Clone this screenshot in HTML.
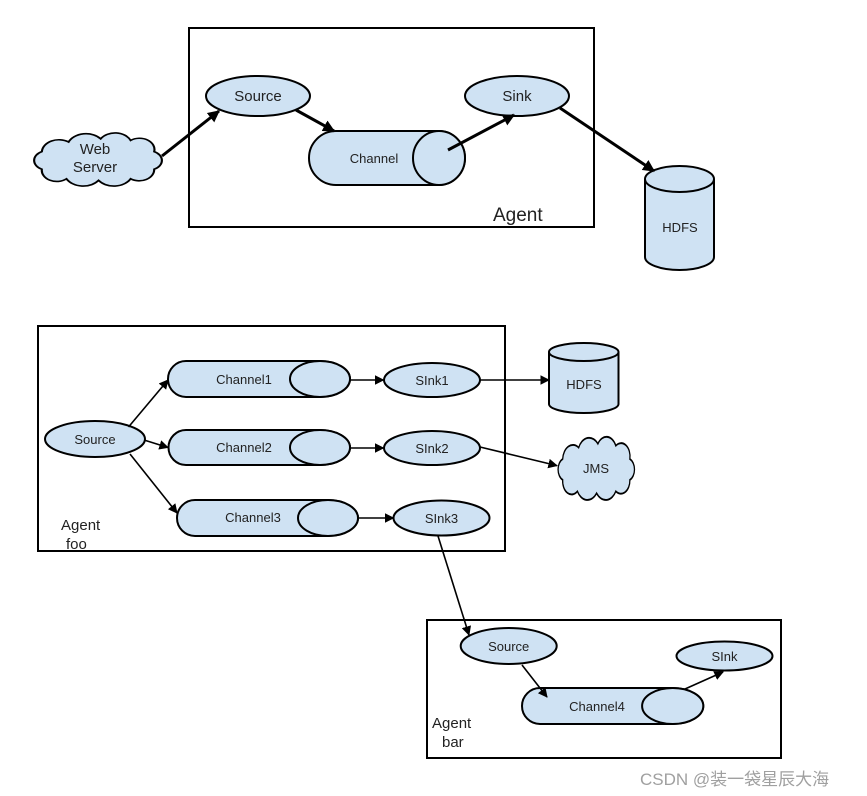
<!DOCTYPE html>
<html><head><meta charset="utf-8"><style>
html,body{margin:0;padding:0;background:#fff;}
svg{display:block;}
text{font-family:"Liberation Sans",Arial,sans-serif;fill:#222;}
</style></head><body>
<svg width="867" height="796" viewBox="0 0 867 796" xmlns="http://www.w3.org/2000/svg">
<defs>
<marker id="ah" viewBox="0 0 10 10" refX="9" refY="5" markerWidth="4" markerHeight="4" orient="auto-start-reverse"><path d="M0,0 L10,5 L0,10 z" fill="#000"/></marker>
<marker id="ahs" viewBox="0 0 10 10" refX="9" refY="5" markerWidth="6" markerHeight="6" orient="auto-start-reverse"><path d="M0,0 L10,5 L0,10 z" fill="#000"/></marker>
<path id="cloud" d="M 45 170 a12 12 0 0 1 0 -22 a16 16 0 0 1 25 -12 a18 18 0 0 1 30 -4 a16 16 0 0 1 28 2 a14 14 0 0 1 22 14 a12 12 0 0 1 0 22 a14 14 0 0 1 -22 12 a18 18 0 0 1 -30 2 a18 18 0 0 1 -30 -2 a14 14 0 0 1 -23 -12 z"/>
</defs>
<g fill="#cfe2f3" stroke="#000" stroke-width="2">
<!-- TOP -->
<rect x="189" y="28" width="405" height="199" fill="none"/>
<use href="#cloud" transform="translate(29,135.6) scale(1.07,0.8) translate(-33,-128)"/>
<ellipse cx="258" cy="96" rx="52" ry="20"/>
<ellipse cx="517" cy="96" rx="52" ry="20"/>
<path d="M336 131 H439 A26 27 0 0 1 439 185 H336 A27 27 0 0 1 336 131 Z"/>
<ellipse cx="439" cy="158" rx="26" ry="27"/>
<path d="M645 179 A34.5 13 0 0 1 714 179 V257 A34.5 13 0 0 1 645 257 Z"/>
<path d="M645 179 A34.5 13 0 0 0 714 179" fill="none"/>
<!-- BOTTOM AGENT FOO -->
<rect x="38" y="326" width="467" height="225" fill="none"/>
<ellipse cx="95" cy="439" rx="50" ry="18"/>
<path d="M186 361 H320 A30 18 0 0 1 320 397 H186 A18 18 0 0 1 186 361 Z"/>
<ellipse cx="320" cy="379" rx="30" ry="18"/>
<path d="M186 430 H320 A30 17.5 0 0 1 320 465 H186 A17.5 17.5 0 0 1 186 430 Z"/>
<ellipse cx="320" cy="447.5" rx="30" ry="17.5"/>
<path d="M195 500 H328 A30 18 0 0 1 328 536 H195 A18 18 0 0 1 195 500 Z"/>
<ellipse cx="328" cy="518" rx="30" ry="18"/>
<ellipse cx="432" cy="380" rx="48" ry="17"/>
<ellipse cx="432" cy="448" rx="48" ry="17"/>
<ellipse cx="441.5" cy="518" rx="48" ry="17.5"/>
<path d="M549 352 A34.75 9 0 0 1 618.5 352 V404 A34.75 9 0 0 1 549 404 Z"/>
<path d="M549 352 A34.75 9 0 0 0 618.5 352" fill="none"/>
<use href="#cloud" transform="translate(555,440) scale(0.64,0.95) translate(-33,-128)"/>
<!-- AGENT BAR -->
<rect x="427" y="620" width="354" height="138" fill="none"/>
<ellipse cx="508.7" cy="646" rx="48" ry="18"/>
<ellipse cx="724.5" cy="656" rx="48" ry="14.5"/>
<path d="M540 688 H672.7 A30.6 18 0 0 1 672.7 724 H540 A18 18 0 0 1 540 688 Z"/>
<ellipse cx="672.7" cy="706" rx="30.6" ry="18"/>
</g>
<g stroke="#000" stroke-width="3" fill="none">
<line x1="162" y1="156" x2="219" y2="111" marker-end="url(#ah)"/>
<line x1="296" y1="110" x2="334" y2="131" marker-end="url(#ah)"/>
<line x1="448" y1="150" x2="514" y2="115" marker-end="url(#ah)"/>
<line x1="560" y1="108" x2="654" y2="171" marker-end="url(#ah)"/>
</g>
<g stroke="#000" stroke-width="1.6" fill="none">
<line x1="128.5" y1="427" x2="168" y2="380" marker-end="url(#ahs)"/>
<line x1="144" y1="440" x2="168" y2="447.5" marker-end="url(#ahs)"/>
<line x1="130" y1="454" x2="177" y2="513" marker-end="url(#ahs)"/>
<line x1="350" y1="380" x2="383.6" y2="380" marker-end="url(#ahs)"/>
<line x1="350" y1="448" x2="383.6" y2="448" marker-end="url(#ahs)"/>
<line x1="358.6" y1="518" x2="393.5" y2="518" marker-end="url(#ahs)"/>
<line x1="480" y1="380" x2="549" y2="380" marker-end="url(#ahs)"/>
<line x1="480" y1="447" x2="557" y2="465.6" marker-end="url(#ahs)"/>
<line x1="438" y1="536" x2="469" y2="635" marker-end="url(#ahs)"/>
<line x1="522" y1="665" x2="547" y2="697" marker-end="url(#ahs)"/>
<line x1="685" y1="689" x2="723" y2="672" marker-end="url(#ahs)"/>
</g>
<g text-anchor="middle">
<text x="258" y="101" font-size="15">Source</text>
<text x="517" y="101" font-size="15">Sink</text>
<text x="374" y="163" font-size="13">Channel</text>
<text x="95" y="154" font-size="15">Web</text>
<text x="95" y="172" font-size="15">Server</text>
<text x="680" y="232" font-size="13">HDFS</text>
<text x="95" y="444" font-size="13">Source</text>
<text x="244" y="384" font-size="13">Channel1</text>
<text x="244" y="452" font-size="13">Channel2</text>
<text x="253" y="522" font-size="13">Channel3</text>
<text x="432" y="385" font-size="13">SInk1</text>
<text x="432" y="453" font-size="13">SInk2</text>
<text x="441.5" y="523" font-size="13">SInk3</text>
<text x="584" y="389" font-size="13">HDFS</text>
<text x="596" y="473" font-size="13">JMS</text>
<text x="508.7" y="651" font-size="13">Source</text>
<text x="724.5" y="661" font-size="13">SInk</text>
<text x="597" y="711" font-size="13">Channel4</text>
</g>
<text x="493" y="221" font-size="19">Agent</text>
<text x="61" y="530" font-size="15">Agent</text>
<text x="66" y="549" font-size="15">foo</text>
<text x="432" y="728" font-size="15">Agent</text>
<text x="442" y="747" font-size="15">bar</text>
<text x="640" y="785" font-size="17" style="fill:#a0a0a0;font-family:'Liberation Sans','Noto Sans CJK SC',sans-serif">CSDN @装一袋星辰大海</text>
</svg>
</body></html>
